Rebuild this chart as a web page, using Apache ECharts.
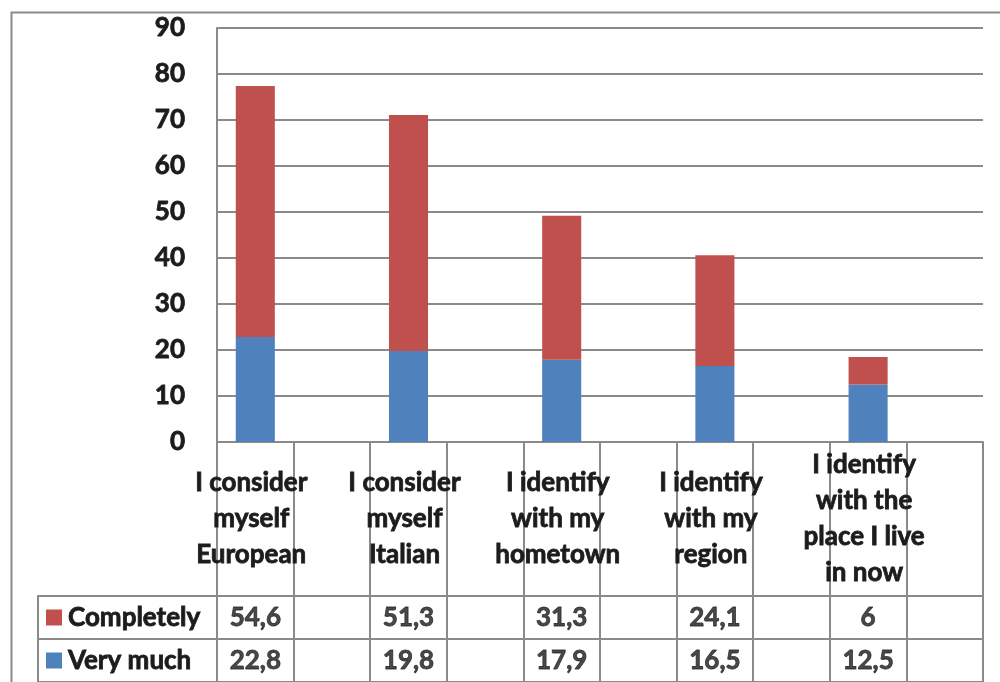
<!DOCTYPE html>
<html>
<head>
<meta charset="utf-8">
<script src="https://cdn.jsdelivr.net/npm/echarts@6/dist/echarts.min.js"></script>
<style>
  html, body { margin: 0; padding: 0; background: #ffffff; }
  #chart { width: 1000px; height: 682px; }
</style>
</head>
<body>
<div id="chart"></div>
<script>
// Survey statements (one per bar) and the two answer groups, in percent
const categories = [
  'I consider\nmyself\nEuropean',
  'I consider\nmyself\nItalian',
  'I identify\nwith my\nhometown',
  'I identify\nwith my\nregion',
  'I identify\nwith the\nplace I live\nin now'
];
const seriesNames = ['Completely', 'Very much'];
const completely = [54.6, 51.3, 31.3, 24.1, 6];
const veryMuch = [22.8, 19.8, 17.9, 16.5, 12.5];
const yTicks = { min: 0, max: 90, step: 10 };

const RED = '#C0504D';
const BLUE = '#4F81BD';
const LINE = '#8a8a8a';
const TEXT = '#1c1c1c';
const FONT = 'Lato, "Open Sans", sans-serif';
const FS = 26;

// heavy bold text used everywhere in the chart
const txt = extra => Object.assign({
  fontSize: FS, fontWeight: 'bold', color: TEXT, fontFamily: FONT,
  textBorderColor: TEXT, textBorderWidth: 0.8
}, extra || {});

// Each statement gets a table column followed by an empty spacer column
const slotLabels = categories.flatMap(c => [c, '']);
const slotOf = i => i * 2;
const slotVery = veryMuch.flatMap(v => [v, '-']);
const slotCompletely = completely.flatMap(v => [v, '-']);

const rowValues = { 'Completely': completely, 'Very much': veryMuch };
const tableCells = [];
seriesNames.forEach(name => {
  rowValues[name].forEach((v, i) => tableCells.push([slotOf(i), name, v]));
});
const fmt = v => String(v).replace('.', ',');

const chart = echarts.init(document.getElementById('chart'), null, { renderer: 'canvas' });

const hiddenValueAxis = gridIndex => ({
  type: 'value', gridIndex: gridIndex, show: false, min: 0, max: 1
});

chart.setOption({
  animation: false,
  backgroundColor: '#ffffff',
  textStyle: { fontFamily: FONT },
  grid: [
    { left: 217, right: 17, top: 28, height: 414 },   // plot area
    { left: 217, right: 17, top: 596, height: 90 },   // data rows
    { left: 217, right: 17, top: 442, height: 154 }   // header row
  ],
  xAxis: [
    {
      type: 'category', gridIndex: 0, data: slotLabels,
      axisLine: { show: true, lineStyle: { color: LINE, width: 2 } },
      axisTick: { show: false },
      axisLabel: txt({
        interval: 0, margin: 77, verticalAlign: 'middle',
        lineHeight: 36, padding: [0, 8, 0, 0]
      }),
      splitLine: { show: false }
    },
    {
      type: 'category', gridIndex: 1, data: slotLabels, position: 'top',
      axisLine: { show: true, lineStyle: { color: LINE, width: 2 } },
      axisTick: { show: false },
      axisLabel: { show: false },
      splitLine: { show: true, interval: 0, lineStyle: { color: LINE, width: 2 } }
    },
    {
      type: 'category', gridIndex: 2, data: slotLabels,
      axisLine: { show: false },
      axisTick: { show: false },
      axisLabel: { show: false },
      splitLine: { show: true, interval: 0, lineStyle: { color: LINE, width: 2 } }
    }
  ],
  yAxis: [
    {
      type: 'value', gridIndex: 0,
      min: yTicks.min, max: yTicks.max, interval: yTicks.step,
      axisLine: { show: true, lineStyle: { color: LINE, width: 2 } },
      axisTick: { show: false },
      axisLabel: txt({ margin: 32 }),
      splitLine: { show: true, lineStyle: { color: LINE, width: 2 } }
    },
    {
      type: 'category', gridIndex: 1, data: seriesNames, inverse: true,
      axisLine: { show: true, lineStyle: { color: LINE, width: 2 } },
      axisTick: { show: true, length: 179, interval: 0, lineStyle: { color: LINE, width: 2 } },
      axisLabel: {
        interval: 0, margin: 171, align: 'left',
        formatter: v => (v === 'Completely' ? '{r|}' : '{b|}') + '{t|' + v + '}',
        rich: {
          r: { width: 16, height: 16, backgroundColor: RED },
          b: { width: 16, height: 16, backgroundColor: BLUE },
          t: txt({ padding: [0, 0, 0, 6] })
        }
      },
      splitLine: { show: true, lineStyle: { color: LINE, width: 2 } }
    },
    {
      // outer left edge of the legend column
      type: 'category', gridIndex: 1, data: seriesNames, inverse: true,
      position: 'left', offset: 179,
      axisLine: { show: true, lineStyle: { color: LINE, width: 2 } },
      axisTick: { show: false },
      axisLabel: { show: false },
      splitLine: { show: false }
    },
    hiddenValueAxis(2)
  ],
  series: [
    {
      name: 'Very much', type: 'bar', stack: 'total',
      xAxisIndex: 0, yAxisIndex: 0,
      barWidth: '51%',
      itemStyle: { color: BLUE },
      data: slotVery
    },
    {
      name: 'Completely', type: 'bar', stack: 'total',
      xAxisIndex: 0, yAxisIndex: 0,
      barWidth: '51%',
      itemStyle: { color: RED },
      data: slotCompletely
    },
    {
      name: 'table', type: 'scatter',
      xAxisIndex: 1, yAxisIndex: 1,
      symbolSize: 1,
      itemStyle: { color: 'rgba(0,0,0,0)' },
      label: txt({
        show: true, position: 'inside',
        formatter: p => fmt(p.value[2])
      }),
      data: tableCells
    }
  ],
  graphic: [
    {
      // chart frame
      type: 'rect', left: 9, top: 10, silent: true,
      shape: { width: 1100, height: 800 },
      style: { fill: 'none', stroke: LINE, lineWidth: 2 }
    }
  ]
});
</script>
</body>
</html>
